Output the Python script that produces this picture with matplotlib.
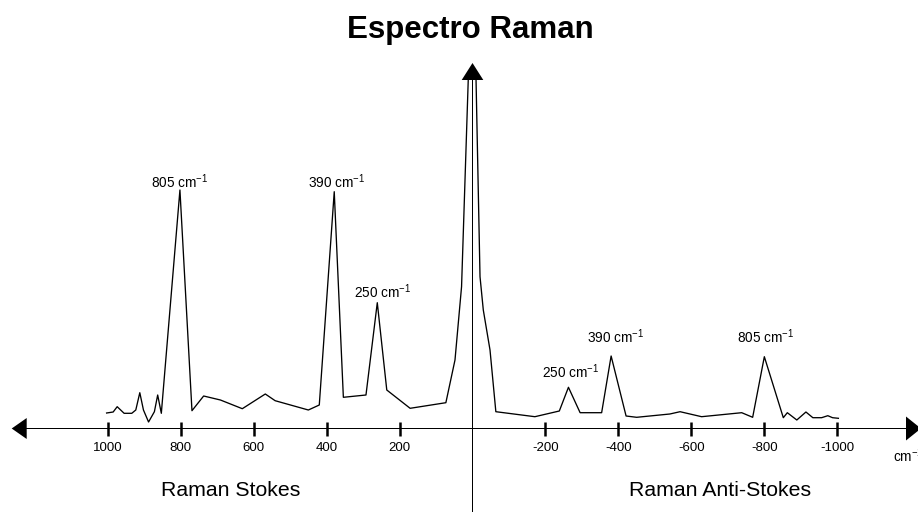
import matplotlib
matplotlib.use("Agg")
import matplotlib.pyplot as plt

plt.rcParams['font.family'] = ['Liberation Sans', 'DejaVu Sans']
plt.rcParams['mathtext.fontset'] = 'custom'
plt.rcParams['mathtext.rm'] = 'Liberation Sans'
plt.rcParams['mathtext.it'] = 'Liberation Sans:italic'

# Raman shift (cm-1, positive = Stokes) and intensity (arbitrary units)
shift = [1003, 985, 974, 955, 934, 923, 912, 902, 888, 872, 863, 853,
         802, 769, 737, 691, 631, 568, 541, 450, 420, 379, 354, 292,
         261, 235, 171, 73, 48, 30, 11.5, 0, -9.6, -20.6, -29.6, -48,
         -64, -171, -238, -263, -295, -354, -380, -421, -450, -541,
         -569, -628, -738, -768, -800, -852, -863, -889, -914, -933,
         -957, -974, -987, -1003]
intensity = [15.5, 16.5, 21.8, 15.2, 15.2, 18.5, 35.8, 18.5, 6.5, 16.8, 33.5, 15.2,
             238.5, 17.8, 32.5, 28.5, 19.8, 34.5, 27.8, 18.5, 23.5, 236.8, 31.2, 33.5,
             125.8, 38.5, 20.2, 25.8, 68.5, 141.8, 350.5, 362, 350.5, 151.8, 118.5, 78.5,
             16.8, 11.8, 17.5, 41.2, 15.8, 15.8, 72.5, 12.5, 11.2, 14.5,
             16.8, 11.8, 15.8, 11.2, 71.8, 10.8, 15.8, 8.5, 16.5, 10.8,
             10.8, 12.8, 10.8, 10.2]

# peak annotations: index into the series, text
peak_idx = [12, 21, 24, 39, 42, 50]
peak_txt = ['805', '390', '250', '250', '390', '805']
# label offsets from the peak (pixels)
peak_off = [(0, 2), (2, 4), (5, 5), (2, 9), (4, 13), (1, 14)]

tick_vals = [1000, 800, 600, 400, 200, -200, -400, -600, -800, -1000]
tick_txt = ['1000', '800', '600', '400', '200', '-200', '-400', '-600', '-800', '-1000']

W, H = 918, 512
x0_px, y0_px = 472.5, 428.5   # origin position in pixels
px_per_cm = 0.3648
u = 1 / px_per_cm              # x data units per pixel

fig = plt.figure(figsize=(W / 100, H / 100), dpi=100)
ax = fig.add_axes([0, 0, 1, 1])
ax.set_xlim(x0_px * u, -(W - x0_px) * u)
ax.set_ylim(-(H - y0_px), y0_px)
for s in ax.spines.values():
    s.set_visible(False)
ax.spines['bottom'].set_position(('data', 0))
ax.set_yticks([])
ax.set_xticks(tick_vals)
ax.set_xticklabels(tick_txt, fontsize=9.5)
ax.tick_params(axis='x', direction='inout', length=10, width=1.8, pad=4.8)

ax.plot(shift, intensity, color='black', lw=0.95, zorder=2)

for i, t, (dx, dy) in zip(peak_idx, peak_txt, peak_off):
    ax.annotate(t + r' cm$^{\mathregular{-1}}$', (shift[i], intensity[i]),
                xytext=(dx, dy), textcoords='offset pixels',
                ha='center', va='baseline', fontsize=9.8)

# axes with arrow heads
ax.arrow(0, 0, (x0_px - 11.7) * u, 0, width=1.0, head_width=21, head_length=15 * u,
         length_includes_head=True, color='black', lw=0, zorder=3)
ax.arrow(0, 0, -(921 - x0_px) * u, 0, width=1.0, head_width=24, head_length=15 * u,
         length_includes_head=True, color='black', lw=0, zorder=3)
ax.arrow(0, -(H - y0_px), 0, (H - y0_px) + (y0_px - 63), width=1.0 * u,
         head_width=21.6 * u, head_length=17, length_includes_head=True,
         color='black', lw=0, zorder=3)

fig.text(470.5 / W, 1 - 37.7 / H, 'Espectro Raman', ha='center', va='baseline',
         fontsize=22.5, fontweight='bold')
fig.text(231 / W, 1 - 496 / H, 'Raman Stokes', ha='center', va='baseline', fontsize=15.3)
fig.text(720 / W, 1 - 496 / H, 'Raman Anti-Stokes', ha='center', va='baseline', fontsize=15.3)
fig.text(893 / W, 1 - 461.7 / H, r'cm$^{\mathregular{-1}}$', ha='left', va='baseline',
         fontsize=9.8)

fig.savefig('out.png', dpi=100)
